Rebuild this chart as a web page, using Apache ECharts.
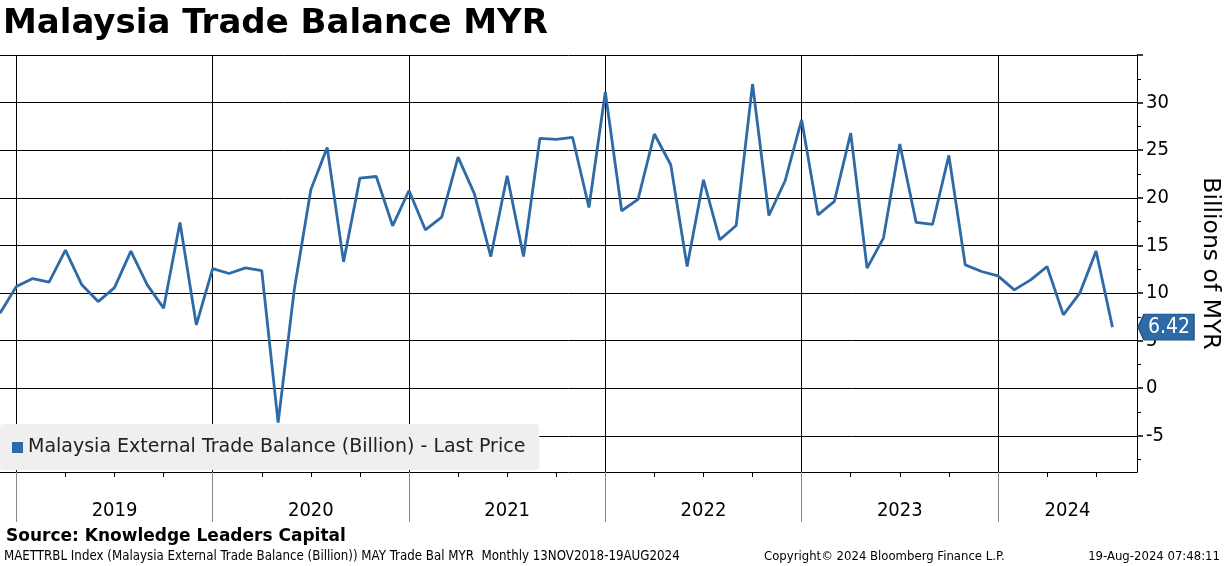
<!DOCTYPE html>
<html>
<head>
<meta charset="utf-8">
<script src="https://cdn.jsdelivr.net/npm/echarts@6/dist/echarts.min.js"></script>
<style>
html, body { margin: 0; padding: 0; background: #fff; }
#showChart { width: 1224px; height: 566px; }
</style>
</head>
<body>
<div id="showChart"></div>
<script>
// monthly points, month-end, Nov 2018 .. Jul 2024
var months = [
    '2018-11', '2018-12',
    '2019-01', '2019-02', '2019-03', '2019-04', '2019-05', '2019-06', '2019-07', '2019-08', '2019-09', '2019-10', '2019-11', '2019-12',
    '2020-01', '2020-02', '2020-03', '2020-04', '2020-05', '2020-06', '2020-07', '2020-08', '2020-09', '2020-10', '2020-11', '2020-12',
    '2021-01', '2021-02', '2021-03', '2021-04', '2021-05', '2021-06', '2021-07', '2021-08', '2021-09', '2021-10', '2021-11', '2021-12',
    '2022-01', '2022-02', '2022-03', '2022-04', '2022-05', '2022-06', '2022-07', '2022-08', '2022-09', '2022-10', '2022-11', '2022-12',
    '2023-01', '2023-02', '2023-03', '2023-04', '2023-05', '2023-06', '2023-07', '2023-08', '2023-09', '2023-10', '2023-11', '2023-12',
    '2024-01', '2024-02', '2024-03', '2024-04', '2024-05', '2024-06', '2024-07'
];
var values = [
    7.88, 10.68,
    11.52, 11.14, 14.50, 10.86, 9.10, 10.57, 14.40, 10.86, 8.41, 17.41, 6.65, 12.57,
    12.05, 12.64, 12.36, -3.61, 10.51, 20.84, 25.29, 13.27, 22.07, 22.24, 17.06, 20.77,
    16.64, 17.97, 24.28, 20.42, 13.83, 22.31, 13.83, 26.24, 26.13, 26.34, 18.98, 31.11,
    18.64, 19.83, 26.70, 23.47, 12.78, 21.89, 15.59, 17.09, 31.95, 18.14, 21.82, 28.20,
    18.21, 19.62, 26.80, 12.61, 15.77, 25.65, 17.41, 17.20, 24.45, 12.96, 12.26, 11.80,
    10.33, 11.38, 12.78, 7.70, 9.98, 14.40, 6.42
];
var years = ['2019', '2020', '2021', '2022', '2023', '2024'];
var yTicks = [-5, 0, 5, 10, 15, 20, 25, 30];
var yMinorTicks = [-7.5, -2.5, 2.5, 7.5, 12.5, 17.5, 22.5, 27.5, 32.5];

var lastValue = values[values.length - 1];
var xMax = 69.5;   // axis runs a bit past the last month
var yMin = -8.8, yMax = 35;
var fontTahoma = '"DejaVu Sans Condensed", "DejaVu Sans", sans-serif';
var fontWide = '"DejaVu Sans", sans-serif';
var blue = '#2d6aa6';

// x position of each point = month index, a year starts on the Dec point
var yearStart = [];
months.forEach(function (m, i) {
    if (m.slice(5) === '12') yearStart.push(i);
});
var yearMid = yearStart.map(function (s, k) {
    var e = k + 1 < yearStart.length ? yearStart[k + 1] : xMax;
    return (s + e) / 2;
});
var quarterTicks = [];
months.forEach(function (m, i) {
    if (['03', '06', '09'].indexOf(m.slice(5)) >= 0) quarterTicks.push(i);
});

var data = values.map(function (v, i) { return [i, v]; });

var gridBox = { left: 0, right: 87, top: 55, bottom: 94, outerBoundsMode: 'none', containLabel: false };

var option = {
    backgroundColor: '#fff',
    animation: false,
    title: {
        text: 'Malaysia Trade Balance MYR',
        left: -2,
        top: 2,
        textStyle: { fontFamily: fontWide, fontWeight: 'bold', fontSize: 34, color: '#000' }
    },
    legend: {
        left: 0,
        top: 424,
        icon: 'rect',
        itemWidth: 11,
        itemHeight: 11,
        itemGap: 4,
        padding: [14, 14, 13, 12],
        backgroundColor: '#efefef',
        borderRadius: 4,
        textStyle: { fontFamily: fontWide, fontSize: 19, color: '#222' },
        data: ['Malaysia External Trade Balance (Billion) - Last Price']
    },
    grid: [gridBox, Object.assign({}, gridBox)],
    xAxis: [{
        type: 'value',
        gridIndex: 0,
        min: 0,
        max: xMax,
        position: 'bottom',
        axisLine: { show: true, onZero: false, lineStyle: { color: '#000', width: 1 } },
        axisTick: { show: true, customValues: yearStart, length: 50, lineStyle: { color: '#888', width: 1 } },
        splitLine: { show: true, lineStyle: { color: '#000', width: 1 } },
        axisLabel: {
            customValues: yearMid,
            margin: 29,
            fontFamily: fontTahoma,
            fontSize: 20,
            color: '#000',
            formatter: function (v) { return years[yearMid.indexOf(v)]; }
        }
    }, {
        // quarter ticks under the axis
        type: 'value',
        gridIndex: 1,
        min: 0,
        max: xMax,
        position: 'bottom',
        axisLine: { show: false, onZero: false },
        axisTick: { show: true, customValues: quarterTicks, length: 5, lineStyle: { color: '#000' } },
        splitLine: { show: false },
        axisLabel: { show: false }
    }],
    yAxis: [{
        type: 'value',
        gridIndex: 0,
        min: yMin,
        max: yMax,
        position: 'right',
        axisLine: { show: true, onZero: false, lineStyle: { color: '#000', width: 1 } },
        axisTick: { show: true, customValues: yTicks.concat([35]), length: 6, lineStyle: { color: '#000', width: 1.5 } },
        splitLine: { show: true, lineStyle: { color: '#000', width: 1 } },
        axisLabel: { customValues: yTicks, margin: 9, fontFamily: fontTahoma, fontSize: 20, color: '#000' },
        name: 'Billions of MYR',
        nameLocation: 'middle',
        nameRotate: -90,
        nameGap: 61,
        nameTextStyle: { fontFamily: fontWide, fontSize: 23.5, color: '#000' }
    }, {
        // minor ticks between labelled values
        type: 'value',
        gridIndex: 1,
        min: yMin,
        max: yMax,
        position: 'right',
        axisLine: { show: false, onZero: false },
        axisTick: { show: true, customValues: yMinorTicks, length: 4, lineStyle: { color: '#000' } },
        splitLine: { show: false },
        axisLabel: { show: false }
    }],
    series: [{
        name: 'Malaysia External Trade Balance (Billion) - Last Price',
        type: 'line',
        xAxisIndex: 0,
        yAxisIndex: 0,
        clip: false,
        data: data,
        showSymbol: false,
        itemStyle: { color: blue },
        lineStyle: { color: blue, width: 2.8 },
        // last value tag sitting on the right axis
        markPoint: {
            silent: true,
            symbol: 'path://M0,13 L6,0 L56,0 L56,26 L6,26 Z',
            symbolSize: [56, 26],
            symbolKeepAspect: false,
            symbolOffset: [29, 0],
            itemStyle: { color: blue, borderColor: '#1f4f7e', borderWidth: 1 },
            label: {
                show: true,
                position: 'inside',
                offset: [3, 0],
                formatter: String(lastValue),
                color: '#fff',
                fontFamily: fontTahoma,
                fontSize: 21
            },
            data: [{ coord: [xMax, lastValue] }]
        }
    }],
    graphic: [{
        type: 'text', left: 6, top: 528,
        style: { text: 'Source: Knowledge Leaders Capital', font: 'bold 17px ' + fontWide, fill: '#000' }
    }, {
        type: 'text', left: 4, top: 550,
        style: { text: 'MAETTRBL Index (Malaysia External Trade Balance (Billion)) MAY Trade Bal MYR  Monthly 13NOV2018-19AUG2024', font: '13.2px ' + fontTahoma, fill: '#000' }
    }, {
        type: 'text', left: 764, top: 550,
        style: { text: 'Copyright\u00a9 2024 Bloomberg Finance L.P.', font: '13px ' + fontTahoma, fill: '#000' }
    }, {
        type: 'text', right: 4, top: 550,
        style: { text: '19-Aug-2024 07:48:11', font: '13px ' + fontTahoma, fill: '#000' }
    }]
};

var chartOutChar = echarts.init(document.getElementById('showChart'));
chartOutChar.setOption(option);
</script>
</body>
</html>
